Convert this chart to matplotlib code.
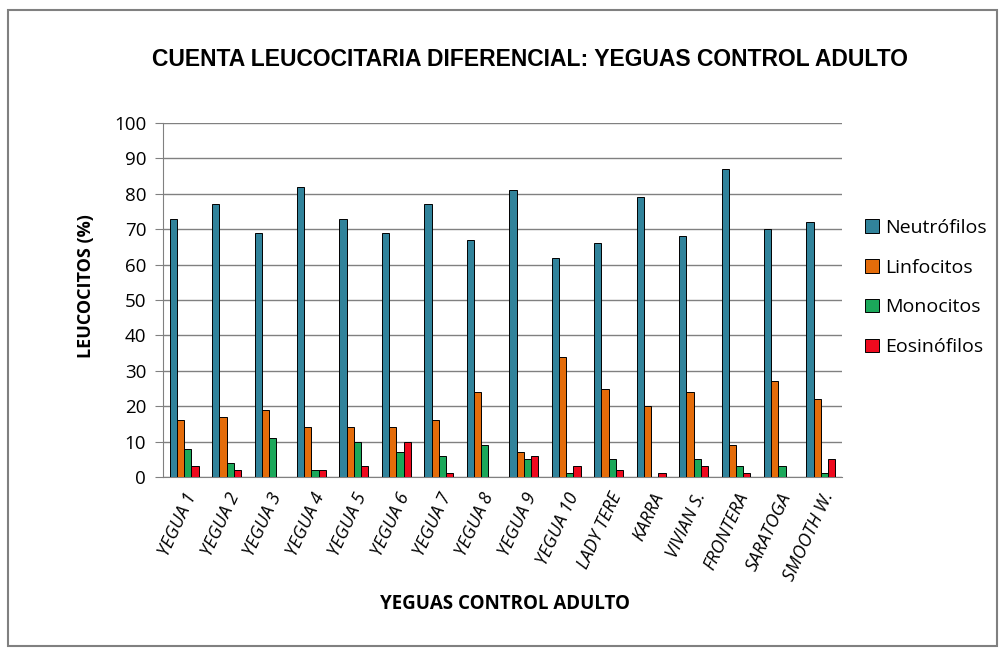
import matplotlib.pyplot as plt
import numpy as np
from matplotlib.patches import Rectangle

# data
yeguas = ["YEGUA 1", "YEGUA 2", "YEGUA 3", "YEGUA 4", "YEGUA 5", "YEGUA 6",
          "YEGUA 7", "YEGUA 8", "YEGUA 9", "YEGUA 10", "LADY TERE", "KARRA",
          "VIVIAN S.", "FRONTERA", "SARATOGA", "SMOOTH W."]
neutrofilos = [73, 77, 69, 82, 73, 69, 77, 67, 81, 62, 66, 79, 68, 87, 70, 72]
linfocitos = [16, 17, 19, 14, 14, 14, 16, 24, 7, 34, 25, 20, 24, 9, 27, 22]
monocitos = [8, 4, 11, 2, 10, 7, 6, 9, 5, 1, 5, 0, 5, 3, 3, 1]
eosinofilos = [3, 2, 0, 2, 3, 10, 1, 0, 6, 3, 2, 1, 3, 1, 0, 5]

series = ["Neutrófilos", "Linfocitos", "Monocitos", "Eosinófilos"]
colors = ["#31839B", "#E46C0A", "#1BA85A", "#EE0A1E"]

sans = ['Open Sans', 'DejaVu Sans']
plt.rcParams['font.family'] = sans

fig = plt.figure(figsize=(9.99, 6.49), dpi=100)
ax = fig.add_axes([0.163, 0.265, 0.680, 0.5455])

x = np.arange(len(yeguas))
w = 0.17
for i, (vals, name, c) in enumerate(zip([neutrofilos, linfocitos, monocitos, eosinofilos],
                                        series, colors)):
    ax.bar(x + (i - 1.5) * w, vals, w, color=c, edgecolor='black', linewidth=0.7,
           label=name, zorder=3)

ax.set_xlim(-0.5, len(yeguas) - 0.5)
ax.set_ylim(0, 100)
ax.set_yticks(np.arange(0, 101, 10))
ax.yaxis.grid(True, color='#808080', linewidth=1.0, zorder=0)
ax.tick_params(axis='y', length=6, color='#808080', labelsize=13.5, pad=6)

ax.set_xticks(x)
ax.set_xticklabels(yeguas, rotation=65, ha='right', va='top', rotation_mode='anchor',
                   fontsize=13, style='italic')
ax.tick_params(axis='x', length=0, pad=9)

for s in ['top', 'right']:
    ax.spines[s].set_visible(False)
ax.spines['left'].set_color('#808080')
ax.spines['bottom'].set_color('#808080')

ax.set_ylabel("LEUCOCITOS (%)", fontsize=13, fontweight='bold')
ax.yaxis.set_label_coords(-0.1, 0.54)
fig.text(0.506, 0.07, "YEGUAS CONTROL ADULTO", ha='center', va='center',
         fontsize=13.5, fontweight='bold')
fig.text(0.531, 0.908, "CUENTA LEUCOCITARIA DIFERENCIAL: YEGUAS CONTROL ADULTO",
         ha='center', va='center', fontsize=16.5, fontweight='bold',
         family=['Liberation Sans', 'DejaVu Sans'])

leg = ax.legend(loc='center left', bbox_to_anchor=(1.0, 0.535), frameon=False,
                prop={'size': 14}, handlelength=0.7, handleheight=0.7,
                handletextpad=0.3, labelspacing=1.12, borderaxespad=0.8)
for h in leg.legend_handles:
    h.set_edgecolor('black')

fig.patches.append(Rectangle((0.008, 0.004), 0.99, 0.98, transform=fig.transFigure,
                             fill=False, edgecolor='#808080', linewidth=1.5))

fig.savefig("out.png", dpi=100)
